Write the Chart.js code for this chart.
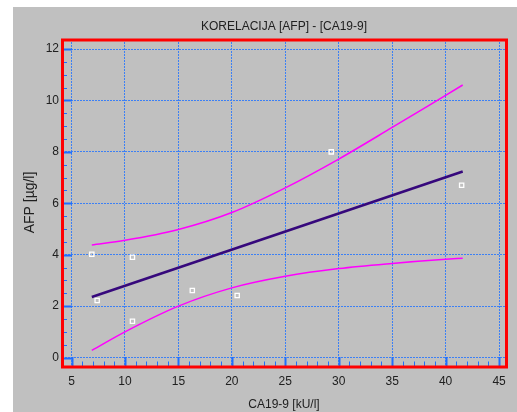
<!DOCTYPE html>
<html>
<head>
<meta charset="utf-8">
<title>KORELACIJA [AFP] - [CA19-9]</title>
<script src="https://cdn.jsdelivr.net/npm/chart.js@4.4.0/dist/chart.umd.min.js"></script>
<style>
  body { margin: 0; background: #ffffff; }
  canvas { display: block; }
</style>
</head>
<body>
<canvas id="chartKorelacija" width="517" height="412"></canvas>
<script>
// ===========================
// Data
// ===========================
const caValues = [6.9, 7.4, 10.7, 10.7, 16.3, 20.5, 29.3, 41.5];
const afpValues = [4.02, 2.22, 3.9, 1.41, 2.61, 2.41, 8.0, 6.7];

// regression line (ends)
const fitX = [6.9, 41.6];
const fitY = [2.35, 7.24];

// confidence band, read at a few x positions
const bandX = [6.9, 10, 15, 20, 25, 30, 35, 40, 41.6];
const upperY = [4.38, 4.56, 4.98, 5.64, 6.6, 7.72, 8.95, 10.2, 10.6];
const lowerY = [0.28, 1.0, 2.0, 2.71, 3.16, 3.46, 3.66, 3.82, 3.86];

const xTicks = [5, 10, 15, 20, 25, 30, 35, 40, 45];
const yTicks = [0, 2, 4, 6, 8, 10, 12];

const chartTitle = "KORELACIJA [AFP] - [CA19-9]";
const xTitle = "CA19-9 [kU/l]";
const yTitle = "AFP [µg/l]";

const FONT = "'Liberation Sans', Arial, sans-serif";

function toPoints(xs, ys) {
  return xs.map((x, i) => ({ x: x, y: ys[i] }));
}

// ===========================
// Frame, ticks and title
// ===========================
const framePlugin = {
  id: "frame",
  beforeDraw(chart) {
    const ctx = chart.ctx;
    ctx.save();
    ctx.fillStyle = "#c0c0c0";
    ctx.fillRect(13, 7, chart.width - 13, chart.height - 7);
    ctx.restore();
  },
  afterDraw(chart) {
    const ctx = chart.ctx;
    const a = chart.chartArea;
    const xs = chart.scales.x;
    const ys = chart.scales.y;
    ctx.save();
    ctx.strokeStyle = "#1e6eff";

    // bottom ticks (minor every 1)
    for (let v = xTicks[0]; v <= xTicks[xTicks.length - 1]; v++) {
      const major = xTicks.includes(v);
      const px = Math.round(xs.getPixelForValue(v)) + 0.5;
      ctx.lineWidth = major ? 2 : 1;
      ctx.beginPath();
      ctx.moveTo(px, a.bottom);
      ctx.lineTo(px, a.bottom - (major ? 9 : 4.5));
      ctx.stroke();
    }

    // left ticks (minor every 0.5)
    for (let v = yTicks[0]; v <= yTicks[yTicks.length - 1]; v += 0.5) {
      const major = yTicks.includes(v);
      const py = Math.round(ys.getPixelForValue(v)) + 0.5;
      ctx.lineWidth = major ? 2 : 1;
      ctx.beginPath();
      ctx.moveTo(a.left, py);
      ctx.lineTo(a.left + (major ? 10 : 5), py);
      ctx.stroke();
    }

    // red border round the plot
    ctx.strokeStyle = "#ff0000";
    ctx.lineWidth = 3;
    ctx.strokeRect(a.left + 0.5, a.top + 1, a.width, a.height);

    // title, centred on the plot
    ctx.fillStyle = "#202020";
    ctx.font = "12px " + FONT;
    ctx.textAlign = "center";
    ctx.textBaseline = "middle";
    ctx.fillText(chartTitle, (a.left + a.right) / 2, 27);
    ctx.restore();
  }
};

// ===========================
// Chart
// ===========================
const ctx = document.getElementById("chartKorelacija").getContext("2d");
const chartKorelacija = new Chart(ctx, {
  type: "scatter",
  data: {
    datasets: [
      {
        label: "AFP",
        data: toPoints(caValues, afpValues),
        pointStyle: "rect",
        pointRadius: 3,
        borderColor: "#ffffff",
        backgroundColor: "rgba(0,0,0,0)",
        borderWidth: 1.3
      },
      {
        label: "regresija",
        data: toPoints(fitX, fitY),
        showLine: true,
        borderColor: "#36087c",
        borderWidth: 2.6,
        pointRadius: 0
      },
      {
        label: "gornja granica",
        data: toPoints(bandX, upperY),
        showLine: true,
        borderColor: "#ff00ff",
        borderWidth: 1.5,
        pointRadius: 0,
        cubicInterpolationMode: "monotone"
      },
      {
        label: "donja granica",
        data: toPoints(bandX, lowerY),
        showLine: true,
        borderColor: "#ff00ff",
        borderWidth: 1.5,
        pointRadius: 0,
        cubicInterpolationMode: "monotone"
      }
    ]
  },
  options: {
    responsive: false,
    animation: false,
    layout: { padding: { left: 0, right: 11, top: 39, bottom: 0 } },
    plugins: {
      legend: { display: false },
      tooltip: { enabled: false },
      title: { display: false }
    },
    scales: {
      x: {
        type: "linear",
        min: 4.11,
        max: 45.65,
        afterBuildTicks: s => { s.ticks = xTicks.map(v => ({ value: v })); },
        afterFit: s => { s.height = 46; },
        ticks: {
          autoSkip: false,
          maxRotation: 0,
          padding: 8,
          color: "#202020",
          font: { family: FONT, size: 12 }
        },
        grid: { color: "#3c80f5", lineWidth: 1, drawTicks: false },
        border: { display: false, dash: [2, 1] },
        title: {
          display: true,
          text: xTitle,
          color: "#202020",
          font: { family: FONT, size: 12 },
          padding: { top: 0, bottom: 0 }
        }
      },
      y: {
        type: "linear",
        min: -0.33,
        max: 12.39,
        afterBuildTicks: s => { s.ticks = yTicks.map(v => ({ value: v })); },
        afterFit: s => { s.width = 62; },
        ticks: {
          padding: 3,
          color: "#202020",
          font: { family: FONT, size: 12 }
        },
        grid: { color: "#3c80f5", lineWidth: 1, drawTicks: false },
        border: { display: false, dash: [2, 1] },
        title: {
          display: true,
          text: yTitle,
          color: "#202020",
          font: { family: FONT, size: 14 },
          padding: { top: 22, bottom: 0 }
        }
      }
    }
  },
  plugins: [framePlugin]
});
</script>
</body>
</html>
